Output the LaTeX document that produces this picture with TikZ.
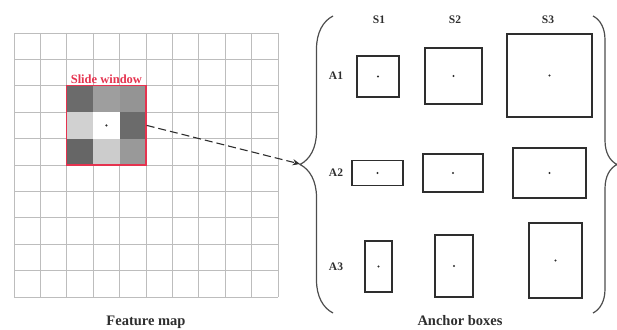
\documentclass[tikz,border=0pt]{standalone}
\usepackage{fontspec}
\setmainfont{Liberation Serif}
\usepackage{xcolor}
\usetikzlibrary{arrows.meta,positioning,decorations.pathreplacing}
\definecolor{FigureInk}{HTML}{2E2E2E}
\definecolor{GridLine}{gray}{0.74}
\definecolor{WindowRed}{HTML}{E5334F}
\tikzset{
  figure/.style={x=1pt,y=-1pt,text=FigureInk},
  gridline/.style={draw=GridLine,line width=0.7pt},
  window/.style={draw=WindowRed,line width=1.3pt,minimum size=79.2pt,inner sep=0pt},
  anchorbox/.style={draw=FigureInk,line width=1.3pt,inner sep=0pt},
  bracket/.style={draw=FigureInk!85,line width=1.2pt,decorate,decoration={brace,amplitude=33pt}},
  flow/.style={-{Stealth[length=2.6mm,width=2.2mm]},dash pattern=on 8pt off 4pt,line width=1.1pt,draw=FigureInk},
  tag/.style={font=\bfseries\fontsize{11.5}{13}\selectfont,inner sep=1pt},
  caption/.style={font=\bfseries\fontsize{14.5}{16}\selectfont,anchor=base,inner sep=0pt},
}

\begin{document}
\begin{tikzpicture}[figure]
  \useasboundingbox (0,0) rectangle (617,329);

  \foreach \i in {0,...,10} {
    \draw[gridline] (14+26.4*\i,33) -- (14+26.4*\i,297);
    \draw[gridline] (14,33+26.4*\i) -- (278,33+26.4*\i);
  }
  \foreach \c/\r/\g in {0/0/42,1/0/62,2/0/58,0/1/82,1/1/100,2/1/42,0/2/40,1/2/80,2/2/60}
    \fill[white!\g!black] (66.8+26.4*\c,85.8+26.4*\r) rectangle ++(26.4,26.4);
  \node[window] (win) at (106.4,125.4) {};
  \fill[FigureInk] (win.center) circle (1.2pt);
  \node[tag,font=\bfseries\fontsize{12.5}{14}\selectfont,text=WindowRed,above=0pt of win] (slide) {Slide window};
  \node[caption] (fmap) at (146,325) {Feature map};

  \coordinate (tipL) at (300,164);
  \draw[bracket] (333,313) -- (333,16);
  \draw[bracket,decoration={amplitude=24pt}] (593,16) -- (593,313);
  \draw[flow] (win.east) -- (tipL);

  \node[tag] (s1) at (379,20) {S1};
  \node[tag] (s2) at (455,20) {S2};
  \node[tag] (s3) at (548,20) {S3};
  \node[tag] (a1) at (336,76) {A1};
  \node[tag] (a2) at (336,173) {A2};
  \node[tag] (a3) at (336,267) {A3};

  \node[anchorbox,minimum width=42pt,minimum height=41pt] (a1s1) at (378,76.5) {};
  \node[anchorbox,minimum width=57pt,minimum height=56pt] (a1s2) at (453.5,76) {};
  \node[anchorbox,minimum width=85pt,minimum height=83pt] (a1s3) at (549.5,75.5) {};
  \node[anchorbox,minimum width=51pt,minimum height=25pt] (a2s1) at (377.5,173) {};
  \node[anchorbox,minimum width=60pt,minimum height=38pt] (a2s2) at (453,173) {};
  \node[anchorbox,minimum width=73pt,minimum height=50pt] (a2s3) at (549.5,173) {};
  \node[anchorbox,minimum width=27pt,minimum height=51pt] (a3s1) at (378.5,266.5) {};
  \node[anchorbox,minimum width=38pt,minimum height=62pt] (a3s2) at (454,266) {};
  \node[anchorbox,minimum width=53pt,minimum height=75pt] (a3s3) at (555.5,260.5) {};
  \foreach \b in {a1s1,a1s2,a1s3,a2s1,a2s2,a2s3,a3s1,a3s2,a3s3}
    \fill[FigureInk] (\b.center) circle (1.2pt);

  \node[caption] (abox) at (460,325) {Anchor boxes};
\end{tikzpicture}
\end{document}
